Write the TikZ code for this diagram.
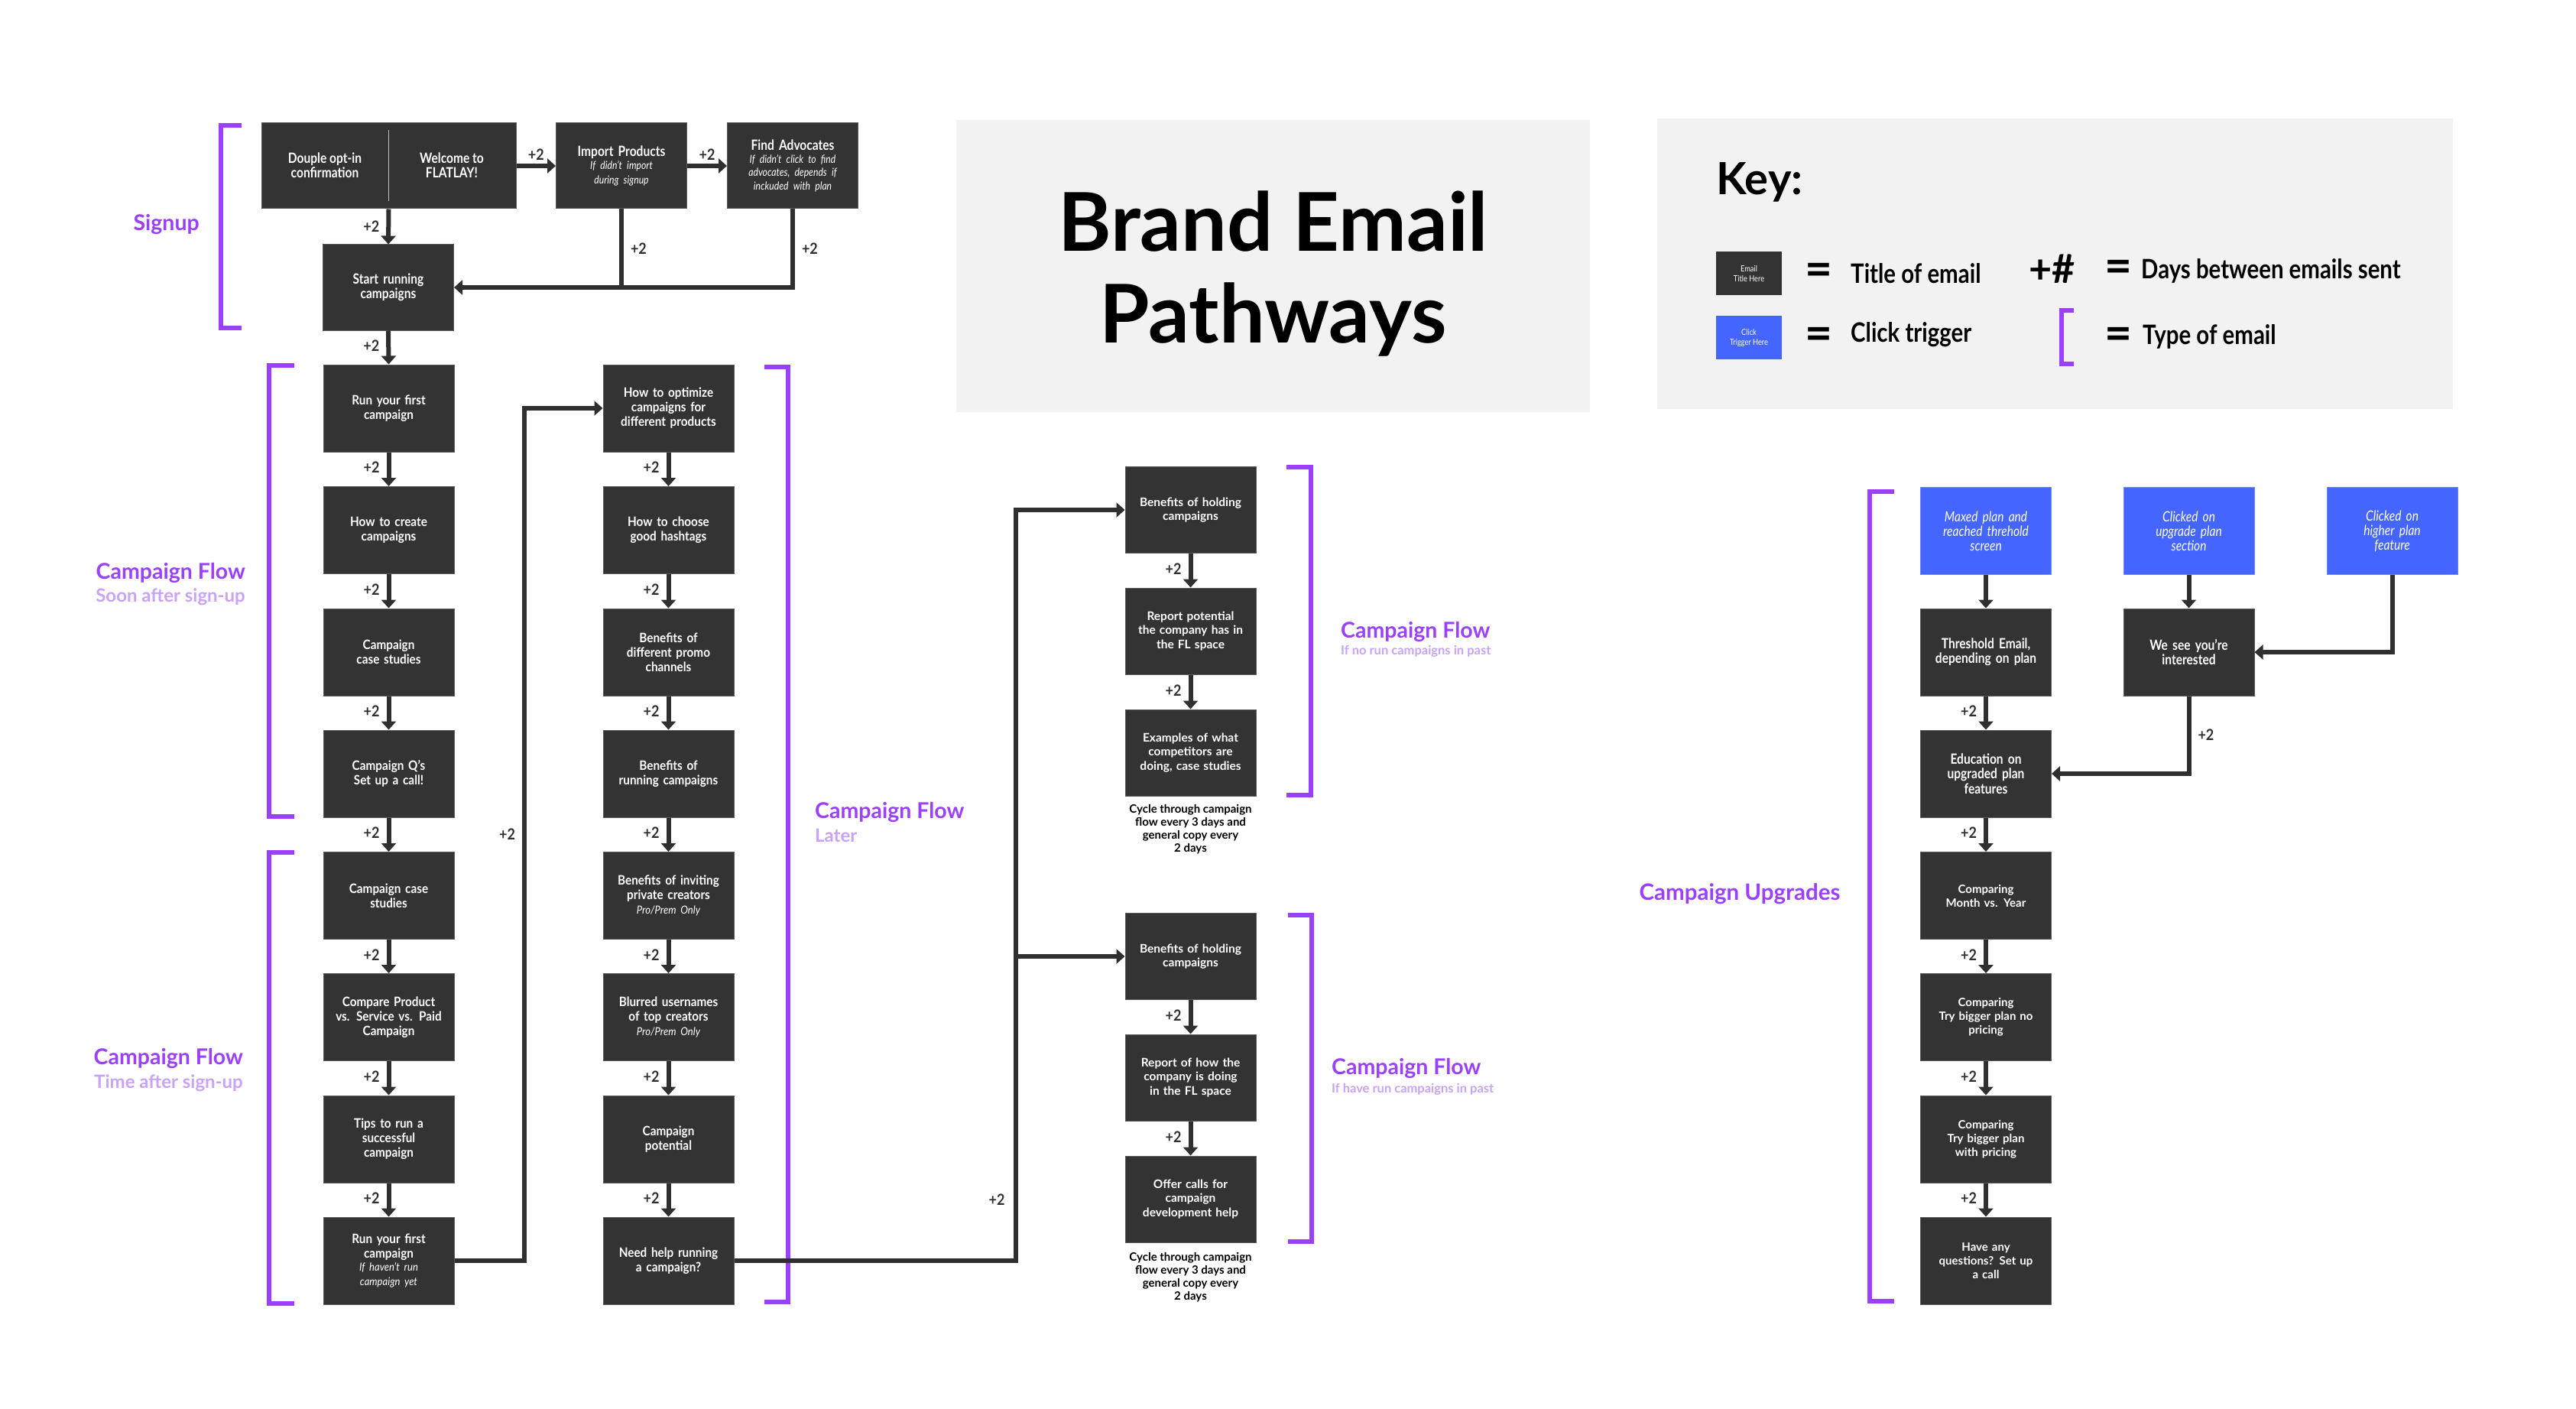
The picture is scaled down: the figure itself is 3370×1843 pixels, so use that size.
\documentclass[tikz,border=0pt]{standalone}
\usepackage{fontspec}
\setmainfont{Lato}
\newfontfamily\fnorm{Lato}
\newfontfamily\fsemi{Lato}[FakeStretch=0.9]
\newfontfamily\fcond{Lato}[FakeStretch=0.84]
\usetikzlibrary{arrows.meta}
\definecolor{boxdark}{HTML}{333333}
\definecolor{boxedge}{HTML}{5A5A5A}
\definecolor{trig}{HTML}{4466FF}
\definecolor{brk}{HTML}{9B40FF}
\definecolor{brklight}{HTML}{C8A3F8}
\definecolor{panel}{HTML}{F2F2F2}
\definecolor{ink}{HTML}{2F2F2F}
\newcommand\fsz[2]{\fontsize{#1}{#2}\selectfont}
\newcommand\sub[1]{{\mdseries\itshape\fsz{14.5}{17}#1}}

\tikzset{
  email/.style={fill=boxdark, draw=boxedge, line width=1pt, text=white,
    minimum width=171pt, minimum height=114pt, inner sep=3pt,
    align=center, text width=165pt},
  colA/.style={email, font=\fsemi\bfseries\fsz{17}{19}},
  colM/.style={email, minimum height=113pt, font=\fnorm\bfseries\fsz{15.5}{18.5}},
  colU/.style={email, font=\fcond\bfseries\fsz{18.5}{19.5}},
  colW/.style={email, font=\fnorm\bfseries\fsz{15}{18}},
  sgn/.style={email, minimum width=170pt, minimum height=112pt, font=\fcond\bfseries\fsz{18.5}{18.5}},
  trigbox/.style={email, fill=trig, draw=trig!80!white, font=\fcond\itshape\fsz{18.5}{19}},
  flow/.style={draw=ink, line width=6pt, -{Triangle[length=11pt,width=19pt]}},
  wire/.style={draw=ink, line width=6pt},
  brack/.style={draw=brk, line width=6pt, miter limit=10},
  plus/.style={font=\fsemi\bfseries\fsz{20}{20}, text=ink, inner sep=0pt},
  grp/.style={font=\fnorm\bfseries\fsz{28.5}{30}, text=brk, inner sep=0pt},
  grpsub/.style={font=\fnorm\bfseries\fsz{24}{26}, text=brklight, inner sep=0pt},
  grpnote/.style={font=\fnorm\bfseries\fsz{16.5}{18}, text=brklight, inner sep=0pt},
  cycle/.style={font=\fnorm\bfseries\fsz{15}{17}, text=black, align=center, inner sep=0pt},
  keytxt/.style={font=\fcond\bfseries\fsz{35}{36}, text=black, inner sep=0pt, anchor=west},
  eqs/.style={font=\fnorm\bfseries\fsz{62}{62}, text=black, inner sep=0pt}
}

\begin{document}
\begin{tikzpicture}[x=1pt, y=-1pt]
\useasboundingbox (0,0) rectangle (3370,1843);
\fill[white] (0,0) rectangle (3370,1843);

% ---------------- title and key panels ----------------
\node[fill=panel, minimum width=829pt, minimum height=382pt, inner sep=0pt] (titlepanel) at (1665.5,348) {};
\node[font=\fnorm\bfseries\fsz{106}{110}, anchor=base, inner sep=0pt] (title1) at (1665.5,329) {Brand Email};
\node[font=\fnorm\bfseries\fsz{106}{110}, anchor=base, inner sep=0pt] (title2) at (1665.5,448) {Pathways};

\node[fill=panel, minimum width=1041pt, minimum height=380pt, inner sep=0pt] (keypanel) at (2688.5,345) {};
\node[font=\fnorm\bfseries\fsz{58}{60}, anchor=base west, inner sep=0pt] (keyhead) at (2245,255) {Key:};
\node[fill=boxdark, minimum width=86pt, minimum height=57pt, inner sep=0pt, text=white, align=center,
      font=\fcond\fsz{11}{13}] (keyemail) at (2288,357.5) {Email\\Title Here};
\node[fill=trig, minimum width=86pt, minimum height=57pt, inner sep=0pt, text=white, align=center,
      font=\fcond\fsz{11}{13}] (keytrig) at (2288,441.5) {Click\\Trigger Here};
\node[eqs] (eq1) at (2379,359) {=};
\node[keytxt] (k1) at (2421,358) {Title of email};
\node[font=\fnorm\bfseries\fsz{52}{52}, inner sep=0pt, anchor=west] (kplus) at (2654,352) {+\#};
\node[eqs] (eq2) at (2771,355) {=};
\node[keytxt] (k2) at (2801,354) {Days between emails sent};
\node[eqs] (eq3) at (2379,443) {=};
\node[keytxt] (k3) at (2421,438) {Click trigger};
\draw[brack] (2713,406) -- (2697,406) -- (2697,476) -- (2713,476);
\node[eqs] (eq4) at (2771,443) {=};
\node[keytxt] (k4) at (2803,440) {Type of email};

% ---------------- signup ----------------
\draw[brack] (316,164) -- (289,164) -- (289,429) -- (316,429);
\node[grp, anchor=east] (lblsignup) at (261,294) {Signup};

\node[sgn, minimum width=333pt, text width=320pt] (optin) at (508.5,217) {};
\node[font=\fcond\bfseries\fsz{18.5}{18.5}, text=white, align=center] (optintxt) at (425,216) {Douple opt-in\\confirmation};
\node[font=\fcond\bfseries\fsz{18.5}{18.5}, text=white, align=center] (welcometxt) at (591,216) {Welcome to\\FLATLAY!};
\draw[draw=white!75!black, line width=1pt] ([yshift=-10pt]optin.north) -- ([yshift=10pt]optin.south);

\node[sgn] (import) at (813,217) {Import Products\\\sub{If didn’t import\\during signup}};
\node[sgn] (advoc) at (1037,217) {Find Advocates\\\sub{If didn’t click to find\\advocates, depends if\\inckuded with plan}};
\node[sgn] (start) at (508,376) {Start running\\campaigns};

\draw[flow] (optin.east) -- node[plus, above=4pt] (p-s1) {+2} (import.west);
\draw[flow] (import.east) -- node[plus, above=4pt] (p-s2) {+2} (advoc.west);
\draw[flow] (optin.south) -- node[plus, left=9pt] (p-s3) {+2} (start.north);
\draw[flow] (import.south) -- node[plus, right=9pt] (p-s4) {+2} (import.south |- start.east) -- (start.east);
\draw[wire] (advoc.south) -- node[plus, right=9pt] (p-s5) {+2} (advoc.south |- start.east) -- (import.south |- start.east);

% ---------------- campaign flow, first two columns ----------------
\draw[brack] (385,478) -- (352,478) -- (352,1068) -- (385,1068);
\node[grp, anchor=east] (lblsoon) at (321,749) {Campaign Flow};
\node[grpsub, anchor=east] (lblsoon2) at (321,781) {Soon after sign-up};

\draw[brack] (385,1115) -- (352,1115) -- (352,1705) -- (385,1705);
\node[grp, anchor=east] (lbltime) at (318,1384) {Campaign Flow};
\node[grpsub, anchor=east] (lbltime2) at (318,1417) {Time after sign-up};

\draw[brack] (1000,480) -- (1031,480) -- (1031,1703) -- (1000,1703);
\node[grp, anchor=west] (lbllater) at (1066,1062) {Campaign Flow};
\node[grpsub, anchor=west] (lbllater2) at (1066,1093) {Later};

\node[colA] (a1) at (508.5,534)    {Run your first\\campaign};
\node[colA] (a2) at (508.5,693.5)  {How to create\\campaigns};
\node[colA] (a3) at (508.5,853)    {Campaign\\case studies};
\node[colA] (a4) at (508.5,1012)   {Campaign Q’s\\Set up a call!};
\node[colA] (a5) at (508.5,1171.5) {Campaign case\\studies};
\node[colA] (a6) at (508.5,1330.5) {Compare Product\\vs. Service vs. Paid\\Campaign};
\node[colA] (a7) at (508.5,1490)   {Tips to run a\\successful\\campaign};
\node[colA] (a8) at (508.5,1649)   {Run your first\\campaign\\\sub{If haven’t run\\campaign yet}};

\node[colA] (b1) at (874.5,534)    {How to optimize\\campaigns for\\different products};
\node[colA] (b2) at (874.5,693.5)  {How to choose\\good hashtags};
\node[colA] (b3) at (874.5,853)    {Benefits of\\different promo\\channels};
\node[colA] (b4) at (874.5,1012)   {Benefits of\\running campaigns};
\node[colA] (b5) at (874.5,1171.5) {Benefits of inviting\\private creators\\\sub{Pro/Prem Only}};
\node[colA] (b6) at (874.5,1330.5) {Blurred usernames\\of top creators\\\sub{Pro/Prem Only}};
\node[colA] (b7) at (874.5,1490)   {Campaign\\potential};
\node[colA] (b8) at (874.5,1649)   {Need help running\\a campaign?};

\draw[flow] (start.south) -- node[plus, left=9pt, pos=0.45] (p-a0) {+2} (a1.north);
\foreach \u/\v in {a1/a2,a2/a3,a3/a4,a4/a5,a5/a6,a6/a7,a7/a8,b1/b2,b2/b3,b3/b4,b4/b5,b5/b6,b6/b7,b7/b8}
  \draw[flow] (\u.south) -- node[plus, left=9pt, pos=0.45] (p-\u) {+2} (\v.north);

\coordinate (bendA) at (686,1649);
\draw[flow] (a8.east) -- (bendA) -- node[plus, left=9pt] (p-ab) {+2} (bendA |- b1.west) -- (b1.west);

% ---------------- campaign flow, returning users ----------------
\node[colM] (m1) at (1557.5,667)    {Benefits of holding\\campaigns};
\node[colM] (m2) at (1557.5,825.5)  {Report potential\\the company has in\\the FL space};
\node[colM] (m3) at (1557.5,984.5)  {Examples of what\\competitors are\\doing, case studies};
\node[colM] (n1) at (1557.5,1251)   {Benefits of holding\\campaigns};
\node[colM] (n2) at (1557.5,1409.5) {Report of how the\\company is doing\\in the FL space};
\node[colM] (n3) at (1557.5,1568.5) {Offer calls for\\campaign\\development help};

\foreach \u/\v in {m1/m2,m2/m3,n1/n2,n2/n3}
  \draw[flow] (\u.south) -- node[plus, left=9pt, pos=0.45] (p-\u) {+2} (\v.north);

\node[cycle, anchor=north] (cyc1) at (1557.5,1052) {Cycle through campaign\\flow every 3 days and\\general copy every\\2 days};
\node[cycle, anchor=north] (cyc2) at (1557.5,1638) {Cycle through campaign\\flow every 3 days and\\general copy every\\2 days};

\coordinate (bendB) at (1329,1649);
\draw[flow] (b8.east) -- (bendB) -- (bendB |- m1.west) -- (m1.west);
\draw[flow] (bendB |- n1.west) -- (n1.west);
\node[plus] (p-bn) at (1304,1569) {+2};

\draw[brack] (1683,611) -- (1715,611) -- (1715,1040) -- (1683,1040);
\node[grp, anchor=west] (lblnorun) at (1754,826) {Campaign Flow};
\node[grpnote, anchor=west] (lblnorun2) at (1754,852) {If no run campaigns in past};

\draw[brack] (1685,1197) -- (1716,1197) -- (1716,1624) -- (1685,1624);
\node[grp, anchor=west] (lblhave) at (1742,1397) {Campaign Flow};
\node[grpnote, anchor=west] (lblhave2) at (1742,1425) {If have run campaigns in past};

% ---------------- campaign upgrades ----------------
\draw[brack] (2478,643) -- (2446,643) -- (2446,1702) -- (2478,1702);
\node[grp, anchor=center, font=\fnorm\bfseries\fsz{29.5}{30}] (lblupg) at (2276,1169) {Campaign Upgrades};

\node[trigbox] (t1) at (2598,694.5)   {Maxed plan and\\reached threhold\\screen};
\node[trigbox] (t2) at (2863.5,694.5) {Clicked on\\upgrade plan\\section};
\node[trigbox] (t3) at (3129.5,694.5) {Clicked on\\higher plan\\feature};

\node[colU] (u1) at (2598,853)    {Threshold Email,\\depending on plan};
\node[colU] (w1) at (2863.5,853)  {We see you’re\\interested};
\node[colU] (u2) at (2598,1012)   {Education on\\upgraded plan\\features};
\node[colW] (u3) at (2598,1171.5) {Comparing\\Month vs. Year};
\node[colW] (u4) at (2598,1330.5) {Comparing\\Try bigger plan no\\pricing};
\node[colW] (u5) at (2598,1490)   {Comparing\\Try bigger plan\\with pricing};
\node[colW] (u6) at (2598,1649)   {Have any\\questions? Set up\\a call};

\draw[flow] (t1.south) -- (u1.north);
\draw[flow] (t2.south) -- (w1.north);
\draw[flow] (t3.south) |- (w1.east);
\draw[flow] (w1.south) -- node[plus, right=9pt] (p-w1) {+2} (w1.south |- u2.east) -- (u2.east);
\foreach \u/\v in {u1/u2,u2/u3,u3/u4,u4/u5,u5/u6}
  \draw[flow] (\u.south) -- node[plus, left=9pt, pos=0.45] (p-\u) {+2} (\v.north);

\end{tikzpicture}
\end{document}
